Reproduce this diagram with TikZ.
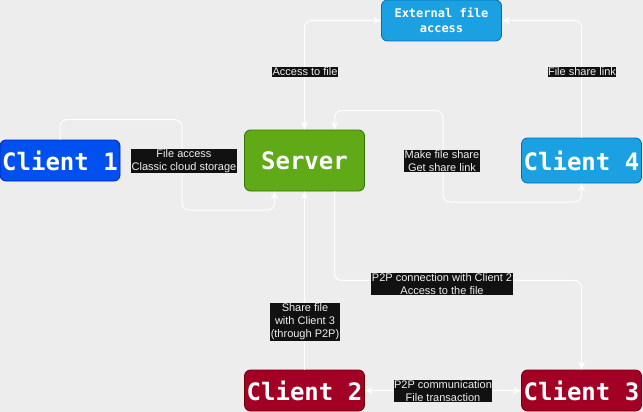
\documentclass[tikz,border=0pt]{standalone}
\usepackage{fontspec}
\setmainfont{Liberation Sans}
\newfontfamily\boxfont{DejaVu Sans Mono}
\usepackage{tikz}
\usetikzlibrary{arrows.meta}

\definecolor{bggray}{HTML}{EDEDED}
\definecolor{lblbg}{HTML}{111111}
\definecolor{lbltext}{HTML}{EEEEEE}
\definecolor{bluefill}{HTML}{0050EF}
\definecolor{blueline}{HTML}{001DBC}
\definecolor{greenfill}{HTML}{60A917}
\definecolor{greenline}{HTML}{2D7600}
\definecolor{skyfill}{HTML}{1BA1E2}
\definecolor{skyline}{HTML}{006EAF}
\definecolor{redfill}{HTML}{A20025}
\definecolor{redline}{HTML}{6F0000}

\tikzset{
	box/.style={rounded corners=6pt, line width=0.8pt, text=white, inner sep=0pt,
		minimum width=120pt, minimum height=41pt,
		font=\boxfont\bfseries\fontsize{24}{28}\selectfont},
	link/.style={draw=white, line width=1pt, rounded corners=7pt},
	lbl/.style={fill=lblbg, text=lbltext, inner sep=0.5pt, align=center,
		font=\fontsize{11}{13}\selectfont},
	>={Stealth[length=8pt,width=7pt]}
}

\begin{document}
\begin{tikzpicture}[x=1pt,y=-1pt]
		\path[fill=bggray] (0,0) rectangle (643,412);
		\useasboundingbox (0,0) rectangle (643,412);
		
		\node[box,draw=blueline,fill=bluefill] (client1) at (60,160.5) {Client 1};
		\node[box,draw=greenline,fill=greenfill,minimum height=61pt] (server) at (304.5,160.5) {Server};
		\node[box,draw=skyline,fill=skyfill,align=center,font=\boxfont\bfseries\fontsize{12}{15}\selectfont] (ext) at (441.5,20.5) {External file\\access};
		\node[box,draw=skyline,fill=skyfill,minimum height=45pt] (client4) at (581.5,160.5) {Client 4};
		\node[box,draw=redline,fill=redfill] (client2) at (304.5,390.5) {Client 2};
		\node[box,draw=redline,fill=redfill] (client3) at (581.5,390.5) {Client 3};
		
		\draw[link,->] (client1.north) -- ++(0,-20) -| (182,210) -| ([xshift=-30pt]server.south);
		\draw[link,<->] (server.north) |- (ext.west);
		\draw[link,->] (client4.north) |- (ext.east);
		\draw[link,<->] ([xshift=30pt]server.north) -- ++(0,-19) -| (443,202) -| (client4.south);
		\draw[link,->] ([xshift=30pt]server.south) -- ++(0,89) -| (client3.north);
		\draw[link,->] (client2.north) -- (server.south);
		\draw[link,<->] (client2) -- (client3);
		
		\node[lbl] (lblcloud) at (184,161) {File access\\Classic cloud storage};
		\node[lbl] (lblaccess) at (305,72) {Access to file};
		\node[lbl] (lbllink) at (582,72) {File share link};
		\node[lbl] (lblshare) at (442,161) {Make file share\\Get share link};
		\node[lbl] (lblconn) at (442,284) {P2P connection with Client 2\\Access to the file};
		\node[lbl] (lblsend) at (305,322) {Share file\\with Client 3\\(through P2P)};
		\node[lbl] (lblp2p) at (443,391) {P2P communication\\File transaction};
	\end{tikzpicture}
\end{document}
